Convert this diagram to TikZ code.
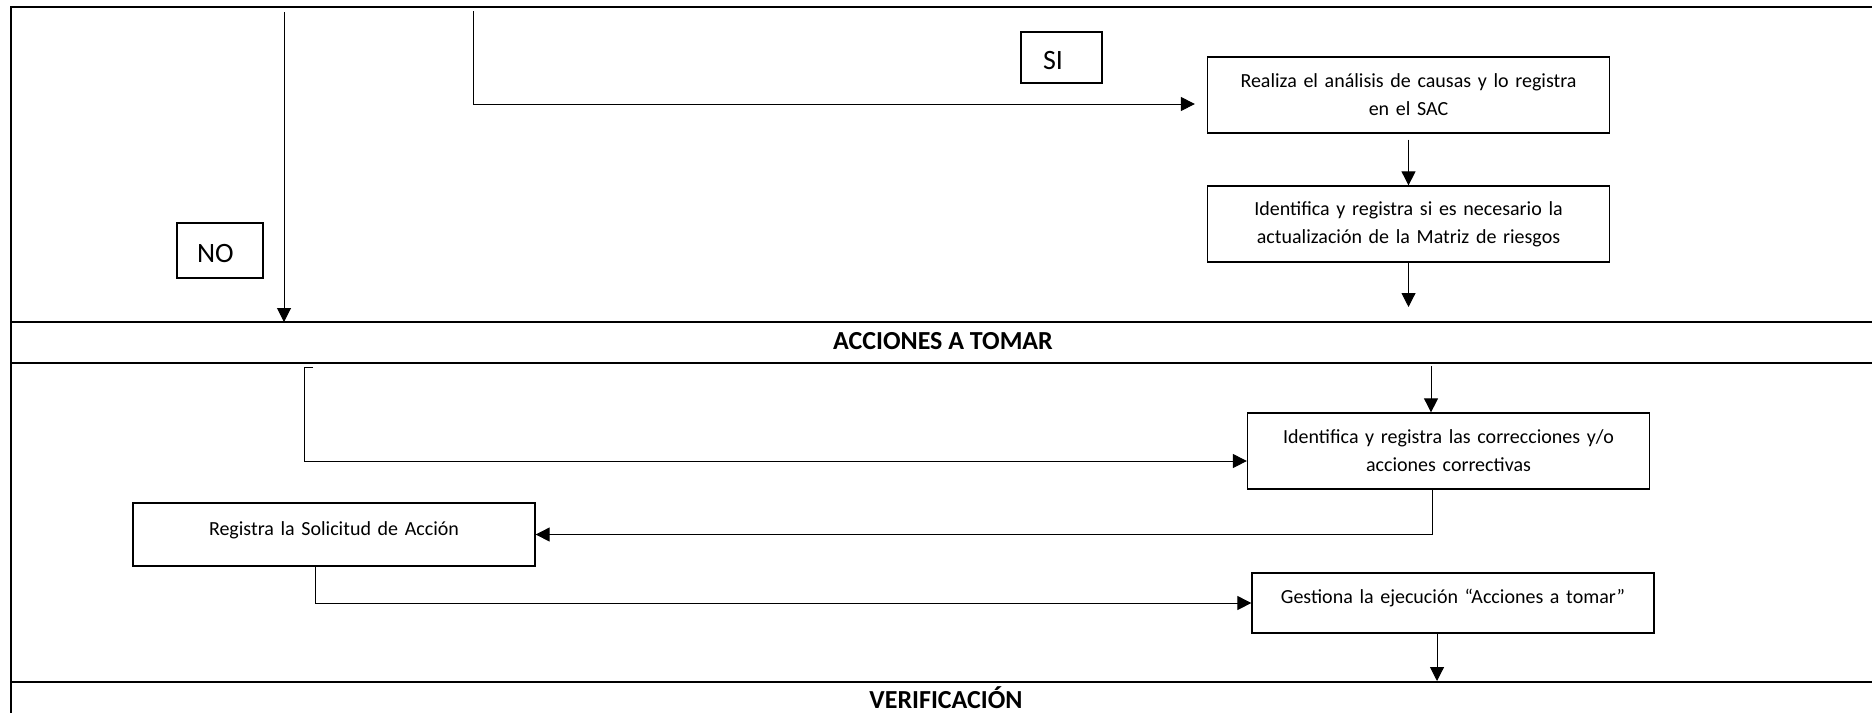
\documentclass[tikz,border=0pt]{standalone}
\usepackage{fontspec}
\setmainfont{Carlito}
\usetikzlibrary{calc, arrows.meta, positioning}

\tikzset{
    paso/.style={draw, line width=0.65pt, minimum width=201pt, minimum height=38pt,
        text width=190pt, inner xsep=5.5pt, align=center, font=\fontsize{10}{14}\selectfont},
    resp/.style={draw, line width=0.65pt, align=left, text height=12pt, text depth=0pt,
        font=\fontsize{14}{17}\selectfont},
    titulo/.style={font=\bfseries\fontsize{13}{15}\selectfont, inner sep=0pt},
    marco/.style={line width=1pt},
    flecha/.style={line width=0.5pt, -{Triangle[length=7pt, width=7pt]}}
}

\begin{document}
\begin{tikzpicture}[x=0.5pt, y=-0.5pt]
    \useasboundingbox (0,0) rectangle (1872,713);

    \draw[marco] (1872,7) -- (11,7) -- (11,713);
    \draw[marco] (11,322) -- (1872,322);
    \draw[marco] (11,363) -- (1872,363);
    \draw[marco] (11,682) -- (1872,682);
    \node[titulo, anchor=base] (acciones) at (943,349) {ACCIONES A TOMAR};
    \node[titulo, anchor=base] (verificacion) at (946,708) {VERIFICACIÓN};

    \node[paso] (analisis) at (1408.5,95) {Realiza el análisis de causas y lo registra\\en el SAC};
    \node[paso] (matriz) at (1408.5,224) {Identifica y registra si es necesario la\\actualización de la Matriz de riesgos};
    \node[resp, text width=18.5pt, inner xsep=11pt, minimum height=25.5pt] (si) at (1061.5,57.5) {SI};
    \node[resp, text width=23pt, inner xsep=10pt, minimum height=27.5pt] (no) at (220,250.5) {NO};

    \coordinate (siIni) at (473,11);
    \coordinate (siCodo) at (473,104);
    \coordinate (noIni) at (284,12);
    \coordinate (noFin) at (284,322);
    \coordinate (matrizFin) at (1408.5,307);

    \draw[flecha, shorten >=6pt] (siIni) -- (siCodo) -- (siCodo -| analisis.west);
    \draw[flecha] (noIni) -- (noFin);
    \draw[flecha, shorten <=3pt] (analisis.south) -- (matriz.north);
    \draw[flecha] (matriz.south) -- (matrizFin);

    \node[paso] (correcciones) at (1448.5,451) {Identifica y registra las correcciones y/o\\acciones correctivas};
    \node[paso, minimum height=31.5pt, text height=7pt, text depth=6.4pt] (solicitud) at (334,534.5) {Registra la Solicitud de Acción};
    \node[paso, minimum height=30pt, text height=7pt, text depth=6.4pt] (gestiona) at (1453,603) {Gestiona la ejecución “Acciones a tomar”};

    \coordinate (accIni) at (313,367);
    \coordinate (accCodo) at (304,461);
    \coordinate (accRet) at (1431,366);
    \coordinate (gestionaFin) at (1437,681);

    \draw[flecha] (accRet) -- (accRet |- correcciones.north);
    \draw[flecha] (accIni) -| (accCodo) -- (accCodo -| correcciones.west);
    \draw[flecha] ([xshift=-8.25pt]correcciones.south) |- (solicitud.east);
    \draw[flecha] ([xshift=-9.5pt]solicitud.south) |- (gestiona.west);
    \draw[flecha] ([xshift=-8pt]gestiona.south) -- (gestionaFin);
\end{tikzpicture}
\end{document}
